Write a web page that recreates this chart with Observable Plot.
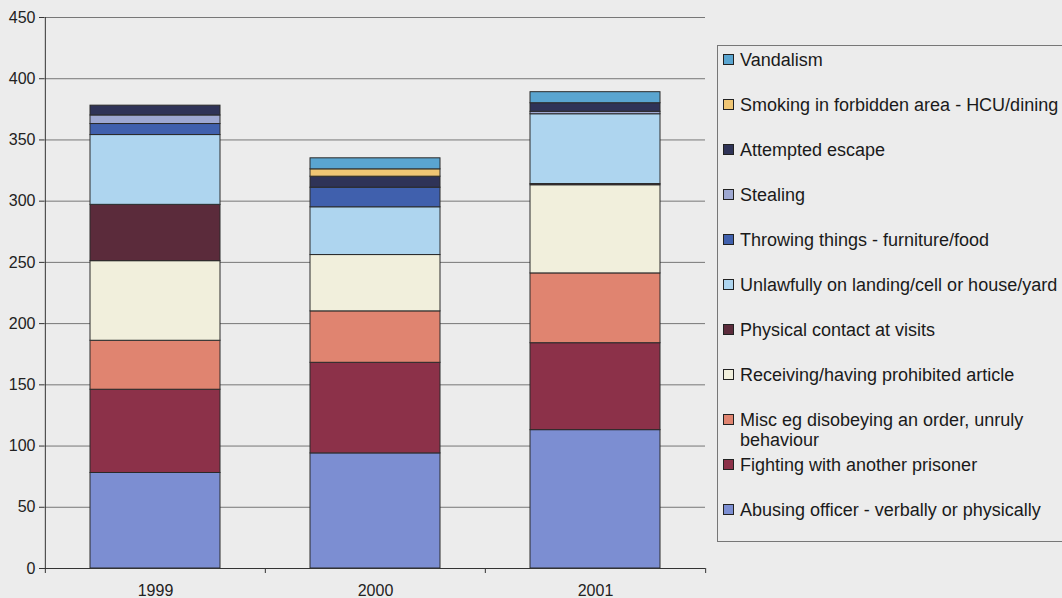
<!DOCTYPE html>
<html>
<head>
<meta charset="utf-8">
<script src="https://cdn.jsdelivr.net/npm/d3@7"></script>
<script src="https://cdn.jsdelivr.net/npm/@observablehq/plot@0.6"></script>
<style>
  html, body { margin: 0; padding: 0; background: #ececec; }
  body { width: 1062px; height: 598px; position: relative; overflow: hidden;
         font-family: "Liberation Sans", Arial, sans-serif; }
  #chart { position: absolute; left: 0; top: 0; }
  #legend { position: absolute; left: 717px; top: 45px; width: 360px; height: 497px;
            border: 1px solid #777; box-sizing: border-box; }
  .item { position: absolute; left: 5px; height: 20px; line-height: 20px;
          font-size: 18px; color: #1a1a1a; white-space: nowrap; }
  .sw { display: inline-block; width: 9px; height: 9px; border: 1px solid #222;
        margin-right: 6px; vertical-align: 1px; }
</style>
</head>
<body>
<div id="chart"></div>
<div id="legend"></div>
<script>
// Years on the x axis
const years = ["1999", "2000", "2001"];

// Offence categories, bottom of the stack first
const categories = [
  "Abusing officer - verbally or physically",
  "Fighting with another prisoner",
  "Misc eg disobeying an order, unruly behaviour",
  "Receiving/having prohibited article",
  "Physical contact at visits",
  "Unlawfully on landing/cell or house/yard",
  "Throwing things - furniture/food",
  "Stealing",
  "Attempted escape",
  "Smoking in forbidden area - HCU/dining",
  "Vandalism"
];

// Counts per category for 1999, 2000, 2001
const abusing    = [78, 94, 113];
const fighting   = [68, 74, 71];
const misc       = [40, 42, 57];
const receiving  = [65, 46, 72];
const contact    = [46, 0, 1];
const unlawfully = [57, 39, 57];
const throwing   = [9, 16, 0];
const stealing   = [7, 0, 2];
const escape     = [8, 9, 7];
const smoking    = [0, 6, 0];
const vandalism  = [0, 9, 9];

const series = [abusing, fighting, misc, receiving, contact, unlawfully,
                throwing, stealing, escape, smoking, vandalism];

const colors = ["#7c8ed2", "#8c3149", "#e08470", "#f1efdc", "#5b2b3b", "#aed5ef",
                "#4060ad", "#9ea8d2", "#2f3357", "#f0c674", "#5aa5d0"];

const yTicks = [0, 50, 100, 150, 200, 250, 300, 350, 400, 450];

const rows = [];
categories.forEach((c, i) => {
  years.forEach((y, j) => {
    if (series[i][j] > 0) rows.push({year: y, category: c, value: series[i][j]});
  });
});

const W = 710, ML = 44, MR = 5;
const halfStep = (W - ML - MR) / years.length / 2;

const chart = Plot.plot({
  width: W,
  height: 598,
  marginTop: 17,
  marginBottom: 30,
  marginLeft: ML,
  marginRight: MR,
  style: {background: "transparent", fontFamily: "Liberation Sans, Arial, sans-serif", fontSize: "16px", color: "#222"},
  x: {domain: years, paddingInner: 0.41, paddingOuter: 0.205, label: null},
  y: {domain: [0, 450], label: null},
  color: {domain: categories, range: colors},
  marks: [
    Plot.ruleY(yTicks.filter(d => d > 0), {stroke: "#777", strokeWidth: 1}),
    Plot.barY(rows, Plot.stackY({
      x: "year", y: "value", fill: "category", z: "category",
      order: categories, inset: 0,
      stroke: "#2a2a2a", strokeWidth: 1
    })),
    Plot.axisY({ticks: yTicks, tickSize: 5, tickPadding: 4, stroke: "#333", fill: "#222"}),
    Plot.axisX({tickSize: 0, tickPadding: 16, fill: "#222"}),
    // value axis line along the left edge of the first band
    Plot.ruleX([years[0]], {x: d => d, dx: -halfStep, y1: 0, y2: 450, stroke: "#333"}),
    // category boundary ticks below the baseline
    Plot.ruleX(years, {x: d => d, dx: -halfStep, y1: 0, y2: 0, insetBottom: -5, stroke: "#333"}),
    Plot.ruleX([years[years.length - 1]], {x: d => d, dx: halfStep, y1: 0, y2: 0, insetBottom: -5, stroke: "#333"}),
    Plot.ruleY([0], {stroke: "#333"})
  ]
});
document.getElementById("chart").appendChild(chart);

// Legend, top entry first
const legend = document.getElementById("legend");
const order = categories.map((c, i) => i).reverse();
order.forEach((i, k) => {
  const item = document.createElement("div");
  item.className = "item";
  item.style.top = (4 + k * 45) + "px";
  const sw = document.createElement("span");
  sw.className = "sw";
  sw.style.background = colors[i];
  item.appendChild(sw);
  const label = categories[i];
  if (label.startsWith("Misc")) {
    item.style.whiteSpace = "normal";
    item.style.height = "auto";
    item.style.width = "310px";
    item.style.paddingLeft = "17px";
    item.style.textIndent = "-17px";
  }
  item.appendChild(document.createTextNode(label));
  legend.appendChild(item);
});
</script>
</body>
</html>
